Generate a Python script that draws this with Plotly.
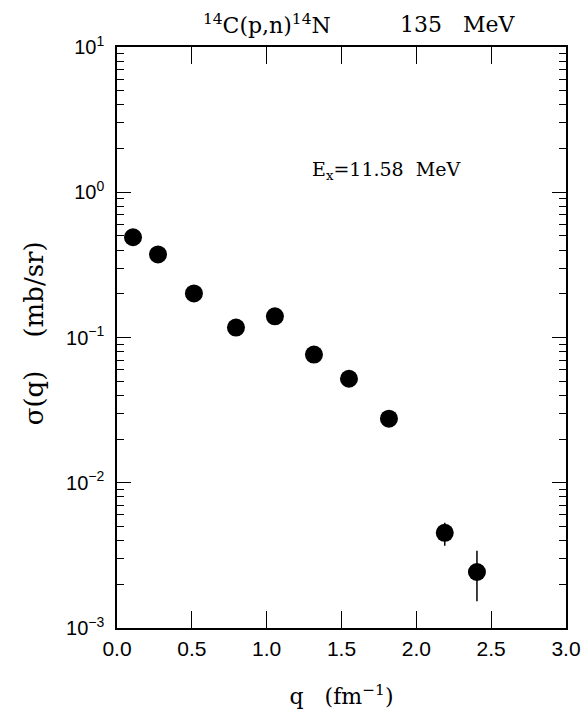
import plotly.graph_objects as go

q = [0.107, 0.274, 0.514, 0.795, 1.055, 1.316, 1.55, 1.817, 2.19, 2.405]
sigma = [0.49, 0.373, 0.201, 0.117, 0.140, 0.0763, 0.052, 0.0276, 0.00452, 0.00243]
err_plus = [0, 0, 0, 0, 0, 0, 0, 0, 0.00078, 0.00097]
err_minus = [0, 0, 0, 0, 0, 0, 0, 0, 0.00084, 0.0009]

y_tickvals = [1e-3, 1e-2, 1e-1, 1, 10]
y_ticktext = ["10<sup>−3</sup>", "10<sup>−2</sup>", "10<sup>−1</sup>", "10<sup>0</sup>", "10<sup>1</sup>"]
x_tickvals = [0.0, 0.5, 1.0, 1.5, 2.0, 2.5, 3.0]
x_ticktext = ["0.0", "0.5", "1.0", "1.5", "2.0", "2.5", "3.0"]
minor_y = [m * 10 ** e for e in range(-3, 1) for m in range(2, 10)]

SERIF = "DejaVu Serif"
SANS = "Liberation Sans"
NB = "&nbsp;"

fig = go.Figure()
fig.add_trace(go.Scatter(
    x=q, y=sigma, mode="markers",
    marker=dict(size=18, color="black"),
    error_y=dict(type="data", symmetric=False, array=err_plus, arrayminus=err_minus,
                 color="black", thickness=1.5, width=0),
    showlegend=False, cliponaxis=False,
))

axis_common = dict(showline=True, linecolor="black", linewidth=1.5, mirror="allticks",
                   ticks="inside", tickcolor="black", showgrid=False, zeroline=False,
                   automargin=False)

fig.update_xaxes(range=[0, 3.0], tickvals=x_tickvals, ticktext=x_ticktext, ticklen=17,
                 tickwidth=1.2, tickfont=dict(family=SANS, size=21, color="black"),
                 ticklabelstandoff=1,
                 title=dict(text="q" + NB * 3 + "(fm<sup>−1</sup>)",
                            font=dict(family=SERIF, size=22, color="black"),
                            standoff=30),
                 **axis_common)
fig.update_yaxes(type="log", range=[-3, 1], tickvals=y_tickvals, ticktext=y_ticktext, ticklen=14,
                 tickwidth=1.2, tickfont=dict(family=SANS, size=20, color="black"),
                 ticklabelstandoff=7,
                 minor=dict(tickvals=minor_y, ticks="inside", ticklen=7, tickcolor="black", tickwidth=1),
                 title=dict(text=NB + "σ(q)" + NB * 4 + "(mb/sr)",
                            font=dict(family=SERIF, size=26, color="black"),
                            standoff=15),
                 **axis_common)

fig.add_annotation(xref="paper", yref="paper", x=0.335, y=1.0, yshift=23, xanchor="center", yanchor="middle",
                   showarrow=False,
                   text="<sup>14</sup>C(p,n)<sup>14</sup>N", font=dict(family=SERIF, size=22, color="black"))
fig.add_annotation(xref="paper", yref="paper", x=0.76, y=1.0, yshift=23, xanchor="center", yanchor="middle",
                   showarrow=False,
                   text="135" + NB * 3 + "MeV", font=dict(family=SERIF, size=22, color="black"))
fig.add_annotation(xref="paper", yref="paper", x=0.599, y=0.788, xanchor="center", yanchor="middle",
                   showarrow=False,
                   text="E<sub>x</sub>=11.58" + NB * 2 + "MeV", font=dict(family=SERIF, size=19, color="black"))

fig.update_layout(width=581, height=713, margin=dict(l=117, r=15, t=47, b=85),
                  plot_bgcolor="white", paper_bgcolor="white")

fig.write_html("out.html", config={"displayModeBar": False},
               post_script="document.body.style.margin='0';document.body.style.overflow='hidden';")
